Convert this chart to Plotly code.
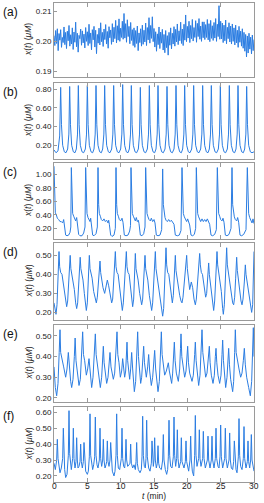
import plotly.graph_objects as go

# ---------------- data ----------------
# (a) noisy steady state, sampled every 0.125 min
T_STEP_A = 0.125
x_a = [
    0.2018, 0.1985, 0.2035, 0.1992, 0.2041, 0.1968, 0.2025, 0.2003, 0.2038, 0.1979, 0.2012, 0.1995,
    0.2047, 0.1988, 0.2029, 0.1975, 0.2033, 0.2001, 0.2052, 0.1983, 0.2021, 0.1990, 0.2044, 0.1972,
    0.2030, 0.1996, 0.2063, 0.1981, 0.2026, 0.1963, 0.2019, 0.2008, 0.2040, 0.1986, 0.2034, 0.1994,
    0.2023, 0.1977, 0.2045, 0.1999, 0.2031, 0.1985, 0.2056, 0.1992, 0.2027, 0.1971, 0.2038, 0.2004,
    0.2049, 0.1980, 0.2036, 0.1958, 0.2022, 0.1993, 0.2043, 0.1987, 0.2061, 0.1998, 0.2029, 0.1982,
    0.2040, 0.2005, 0.2055, 0.1990, 0.2032, 0.1976, 0.2048, 0.2011, 0.2037, 0.1989, 0.2058, 0.1997,
    0.2046, 0.2008, 0.2069, 0.1994, 0.2051, 0.2003, 0.2074, 0.1999, 0.2043, 0.2012, 0.2066, 0.2006,
    0.2092, 0.2010, 0.2058, 0.1996, 0.2071, 0.2015, 0.2049, 0.1991, 0.2062, 0.2002, 0.2038, 0.1985,
    0.2044, 0.1979, 0.2035, 0.1992, 0.2050, 0.1968, 0.2027, 0.1995, 0.2041, 0.1983, 0.2053, 0.1989,
    0.2036, 0.1997, 0.2060, 0.1985, 0.2045, 0.2004, 0.2078, 0.1993, 0.2052, 0.2009, 0.2081, 0.1998,
    0.2042, 0.1980, 0.2031, 0.1966, 0.2024, 0.1988, 0.2047, 0.1975, 0.2030, 0.1993, 0.2039, 0.1970,
    0.2022, 0.1961, 0.2035, 0.1978, 0.2018, 0.1953, 0.2029, 0.1986, 0.2044, 0.1974, 0.2026, 0.1990,
    0.2048, 0.1983, 0.2039, 0.1997, 0.2057, 0.1988, 0.2034, 0.2001, 0.2063, 0.1992, 0.2040, 0.1985,
    0.2056, 0.2003, 0.2087, 0.1998, 0.2049, 0.2010, 0.2066, 0.1995, 0.2052, 0.2008, 0.2072, 0.2000,
    0.2045, 0.2012, 0.2068, 0.1996, 0.2059, 0.2015, 0.2075, 0.2006, 0.2050, 0.1999, 0.2064, 0.2011,
    0.2064, 0.2005, 0.2055, 0.2012, 0.2072, 0.2004, 0.2058, 0.1998, 0.2069, 0.2009, 0.2051, 0.2002,
    0.2062, 0.2010, 0.2075, 0.1999, 0.2056, 0.2015, 0.2118, 0.2006, 0.2066, 0.2007, 0.2060, 0.1995,
    0.2053, 0.2001, 0.2070, 0.1991, 0.2046, 0.2008, 0.2061, 0.1997, 0.2050, 0.1990, 0.2057, 0.1999,
    0.2044, 0.1987, 0.2053, 0.1994, 0.2036, 0.1979, 0.2049, 0.1996, 0.2033, 0.1983, 0.2041, 0.1976,
    0.2029, 0.1966, 0.2022, 0.1947, 0.2017, 0.1960, 0.2026, 0.1973, 0.2013, 0.1957, 0.2020, 0.1968,
    0.2005,
]
t_a = [i * T_STEP_A for i in range(len(x_a))]

# (b) regular spiking
t_b = [0.0, 0.3, 0.6, 0.85,
       1.0, 1.12, 1.3, 1.55, 1.8, 2.05, 2.23,
       2.35, 2.47, 2.65, 2.9, 3.15, 3.35, 3.53,
       3.65, 3.77, 3.95, 4.2, 4.45, 4.7, 4.88,
       5.0, 5.12, 5.3, 5.55, 5.8, 6.0, 6.18,
       6.3, 6.42, 6.6, 6.85, 7.1, 7.3, 7.48,
       7.6, 7.72, 7.9, 8.15, 8.4, 8.65, 8.83,
       8.95, 9.07, 9.25, 9.5, 9.75, 10.0, 10.18,
       10.3, 10.42, 10.6, 10.85, 11.1, 11.3, 11.48,
       11.6, 11.72, 11.9, 12.15, 12.4, 12.65, 12.83,
       12.95, 13.07, 13.25, 13.5, 13.75, 14.0, 14.18,
       14.3, 14.42, 14.6, 14.85, 15.1, 15.3, 15.48,
       15.6, 15.72, 15.9, 16.15, 16.4, 16.65, 16.83,
       16.95, 17.07, 17.25, 17.5, 17.75, 18.0, 18.18,
       18.3, 18.42, 18.6, 18.85, 19.1, 19.3, 19.48,
       19.6, 19.72, 19.9, 20.15, 20.4, 20.65, 20.83,
       20.95, 21.07, 21.25, 21.5, 21.75, 22.0, 22.18,
       22.3, 22.42, 22.6, 22.85, 23.1, 23.3, 23.48,
       23.6, 23.72, 23.9, 24.15, 24.4, 24.65, 24.83,
       24.95, 25.07, 25.25, 25.5, 25.75, 26.0, 26.18,
       26.3, 26.42, 26.6, 26.85, 27.1, 27.3, 27.48,
       27.6, 27.72, 27.9, 28.15, 28.4, 28.6, 28.78,
       28.9, 29.02, 29.2, 29.45, 29.7, 30.0]
x_b = [0.15, 0.12, 0.14, 0.30,
       0.82, 0.42, 0.20, 0.13, 0.12, 0.16, 0.32,
       0.83, 0.42, 0.20, 0.13, 0.12, 0.16, 0.32,
       0.84, 0.42, 0.20, 0.13, 0.12, 0.16, 0.32,
       0.84, 0.42, 0.20, 0.13, 0.12, 0.16, 0.32,
       0.84, 0.42, 0.20, 0.13, 0.12, 0.16, 0.32,
       0.84, 0.42, 0.20, 0.13, 0.12, 0.16, 0.32,
       0.84, 0.42, 0.20, 0.13, 0.12, 0.16, 0.32,
       0.85, 0.42, 0.20, 0.13, 0.12, 0.16, 0.32,
       0.84, 0.42, 0.20, 0.13, 0.12, 0.16, 0.32,
       0.82, 0.42, 0.20, 0.13, 0.12, 0.16, 0.32,
       0.84, 0.42, 0.20, 0.13, 0.12, 0.16, 0.32,
       0.84, 0.42, 0.20, 0.13, 0.12, 0.16, 0.32,
       0.83, 0.42, 0.20, 0.13, 0.12, 0.16, 0.32,
       0.84, 0.42, 0.20, 0.13, 0.12, 0.16, 0.32,
       0.84, 0.42, 0.20, 0.13, 0.12, 0.16, 0.32,
       0.84, 0.42, 0.20, 0.13, 0.12, 0.16, 0.32,
       0.84, 0.42, 0.20, 0.13, 0.12, 0.16, 0.32,
       0.84, 0.42, 0.20, 0.13, 0.12, 0.16, 0.32,
       0.84, 0.42, 0.20, 0.13, 0.12, 0.16, 0.32,
       0.84, 0.42, 0.20, 0.13, 0.12, 0.16, 0.32,
       0.84, 0.42, 0.20, 0.13, 0.12, 0.16, 0.32,
       0.83, 0.42, 0.20, 0.13, 0.12, 0.13]

# (c) bursting
t_c = [0.0, 0.1, 0.2, 0.35, 0.5, 0.7, 0.9, 1.1, 1.3, 1.45, 1.55, 1.75, 1.95, 2.2, 2.4, 2.52,
       2.6, 2.7, 2.8, 2.95, 3.1, 3.25, 3.4, 3.5, 3.7, 3.9, 4.2, 4.45, 4.65,
       4.75, 4.85, 4.95, 5.1, 5.25, 5.4, 5.5, 5.6, 5.8, 6.0, 6.3, 6.5,
       6.6, 6.7, 6.8, 6.95, 7.1, 7.3, 7.5, 7.7, 7.9, 8.1, 8.2, 8.3, 8.5, 8.7, 9.0, 9.2,
       9.3, 9.4, 9.5, 9.65, 9.8, 10.0, 10.2, 10.35, 10.55, 10.8, 11.1, 11.35, 11.48,
       11.55, 11.65, 11.75, 11.9, 12.05, 12.2, 12.35, 12.5, 12.65, 12.75, 12.95, 13.2, 13.45, 13.65,
       13.75, 13.85, 13.95, 14.1, 14.25, 14.45, 14.6, 14.8, 15.0, 15.15, 15.35, 15.6, 15.9, 16.15,
       16.3, 16.4, 16.5, 16.65, 16.8, 17.0, 17.2, 17.4, 17.6, 17.8, 18.0, 18.2, 18.5, 18.8, 19.05,
       19.2, 19.3, 19.4, 19.55, 19.7, 19.9, 20.05, 20.2, 20.35, 20.55, 20.8, 21.05, 21.25,
       21.35, 21.45, 21.55, 21.7, 21.85, 22.0, 22.2, 22.4, 22.6, 22.8, 23.0, 23.2, 23.35, 23.55, 23.8, 24.1, 24.35,
       24.5, 24.6, 24.7, 24.85, 25.0, 25.2, 25.35, 25.5, 25.7, 25.95, 26.25, 26.55,
       26.7, 26.8, 26.9, 27.05, 27.2, 27.4, 27.55, 27.7, 27.9, 28.15, 28.45, 28.8,
       29.0, 29.1, 29.2, 29.35, 29.5, 29.7, 29.85, 30.0]
x_c = [1.12, 0.55, 0.43, 0.40, 0.35, 0.33, 0.30, 0.30, 0.28, 0.33, 0.26, 0.10, 0.09, 0.10, 0.14, 0.22,
       1.10, 0.55, 0.42, 0.38, 0.33, 0.31, 0.36, 0.30, 0.11, 0.09, 0.09, 0.13, 0.22,
       1.10, 0.55, 0.42, 0.36, 0.32, 0.30, 0.35, 0.28, 0.10, 0.09, 0.12, 0.22,
       1.10, 0.55, 0.42, 0.38, 0.33, 0.31, 0.34, 0.30, 0.32, 0.28, 0.32, 0.26, 0.10, 0.08, 0.10, 0.20,
       1.10, 0.55, 0.42, 0.38, 0.33, 0.31, 0.35, 0.29, 0.10, 0.09, 0.10, 0.16, 0.24,
       1.10, 0.55, 0.42, 0.38, 0.33, 0.31, 0.36, 0.30, 0.32, 0.27, 0.10, 0.09, 0.12, 0.22,
       1.10, 0.55, 0.42, 0.37, 0.33, 0.31, 0.35, 0.30, 0.33, 0.28, 0.10, 0.09, 0.10, 0.18,
       1.08, 0.55, 0.42, 0.36, 0.32, 0.30, 0.33, 0.30, 0.32, 0.29, 0.26, 0.10, 0.09, 0.10, 0.17,
       1.10, 0.55, 0.42, 0.37, 0.33, 0.30, 0.34, 0.30, 0.25, 0.10, 0.09, 0.11, 0.20,
       1.10, 0.55, 0.42, 0.37, 0.33, 0.30, 0.34, 0.30, 0.33, 0.30, 0.34, 0.30, 0.26, 0.10, 0.09, 0.11, 0.18,
       1.10, 0.55, 0.42, 0.38, 0.33, 0.31, 0.35, 0.29, 0.10, 0.09, 0.11, 0.20,
       1.10, 0.55, 0.42, 0.37, 0.33, 0.31, 0.36, 0.29, 0.10, 0.09, 0.11, 0.18,
       1.10, 0.55, 0.42, 0.36, 0.32, 0.28, 0.34, 0.27]

# (d) irregular oscillations
t_d = [0.0, 0.15, 0.3, 0.45, 0.62,
       0.75, 0.85, 1.0, 1.2, 1.45, 1.7, 1.9, 2.05, 2.25,
       2.43, 2.53, 2.68, 2.85, 3.05, 3.25, 3.4, 3.55, 3.75,
       3.93, 4.03, 4.18, 4.35, 4.55, 4.72, 4.85, 5.0, 5.15,
       5.3, 5.4, 5.55, 5.72, 5.95, 6.2, 6.35, 6.5, 6.7,
       6.9, 7.0, 7.15, 7.35, 7.6, 7.8, 8.0, 8.2, 8.45, 8.65, 8.8, 9.0,
       9.2, 9.3, 9.45, 9.62, 9.85, 10.08, 10.25, 10.4, 10.62,
       10.85, 10.95, 11.1, 11.27, 11.5, 11.68, 11.8, 11.95, 12.05,
       12.2, 12.3, 12.45, 12.62, 12.85, 13.05, 13.15, 13.3, 13.48,
       13.65, 13.75, 13.9, 14.07, 14.3, 14.5, 14.65, 14.8, 15.0,
       15.2, 15.3, 15.45, 15.62, 15.85, 16.1, 16.3, 16.45, 16.62,
       16.8, 16.9, 17.05, 17.22, 17.45, 17.65, 17.75, 17.9, 18.05,
       18.2, 18.3, 18.45, 18.62, 18.85, 19.05, 19.2, 19.35, 19.6,
       19.9, 20.0, 20.2, 20.35, 20.6, 20.8, 21.0, 21.2, 21.35, 21.6,
       21.85, 21.95, 22.1, 22.27, 22.5, 22.75, 22.9, 23.05,
       23.2, 23.3, 23.45, 23.65, 23.85, 23.95, 24.1, 24.3,
       24.45, 24.55, 24.7, 24.87, 25.1, 25.3, 25.4, 25.55, 25.72,
       25.9, 26.0, 26.15, 26.32, 26.55, 26.8, 26.95, 27.1, 27.25,
       27.4, 27.5, 27.65, 27.85, 28.05, 28.2, 28.35, 28.55,
       28.7, 28.8, 28.97, 29.2, 29.45, 29.65, 29.8, 29.92, 30.0]
x_d = [0.25, 0.21, 0.19, 0.24, 0.38,
       0.52, 0.44, 0.41, 0.40, 0.34, 0.27, 0.23, 0.26, 0.38,
       0.50, 0.43, 0.40, 0.38, 0.32, 0.25, 0.22, 0.25, 0.37,
       0.49, 0.43, 0.40, 0.37, 0.30, 0.24, 0.21, 0.25, 0.37,
       0.50, 0.43, 0.40, 0.38, 0.31, 0.26, 0.25, 0.28, 0.37,
       0.47, 0.41, 0.37, 0.33, 0.30, 0.33, 0.37, 0.34, 0.28, 0.25, 0.27, 0.38,
       0.52, 0.44, 0.41, 0.40, 0.32, 0.24, 0.21, 0.25, 0.38,
       0.52, 0.44, 0.41, 0.40, 0.31, 0.25, 0.23, 0.27, 0.36,
       0.51, 0.43, 0.40, 0.37, 0.30, 0.25, 0.24, 0.27, 0.37,
       0.50, 0.43, 0.40, 0.37, 0.29, 0.23, 0.21, 0.25, 0.38,
       0.52, 0.43, 0.39, 0.35, 0.27, 0.21, 0.18, 0.22, 0.36,
       0.54, 0.45, 0.41, 0.40, 0.32, 0.26, 0.25, 0.29, 0.40,
       0.50, 0.42, 0.38, 0.35, 0.29, 0.26, 0.25, 0.28, 0.38,
       0.50, 0.43, 0.36, 0.32, 0.36, 0.33, 0.27, 0.24, 0.27, 0.39,
       0.51, 0.45, 0.41, 0.40, 0.33, 0.28, 0.30, 0.38,
       0.46, 0.40, 0.36, 0.30, 0.23, 0.21, 0.26, 0.39,
       0.52, 0.45, 0.41, 0.39, 0.31, 0.22, 0.19, 0.24, 0.38,
       0.54, 0.45, 0.41, 0.39, 0.31, 0.25, 0.24, 0.28, 0.38,
       0.49, 0.42, 0.37, 0.32, 0.26, 0.24, 0.27, 0.36,
       0.45, 0.40, 0.36, 0.30, 0.23, 0.20, 0.24, 0.38, 0.52]

# (e) irregular oscillations
t_e = [0.0, 0.2, 0.4, 0.6, 0.78,
       0.9, 1.0, 1.2, 1.45, 1.75, 1.95,
       2.15, 2.3, 2.5, 2.65, 2.85, 3.05,
       3.17, 3.3, 3.5, 3.75, 3.95, 4.15,
       4.3, 4.42, 4.6, 4.85, 5.05,
       5.25, 5.4, 5.55, 5.65, 5.85, 6.05,
       6.2, 6.32, 6.5, 6.75, 6.95, 7.15, 7.3,
       7.4, 7.52, 7.7, 7.9, 8.1, 8.3,
       8.4, 8.55, 8.75, 8.9, 9.1, 9.3,
       9.45, 9.57, 9.75, 9.95, 10.15,
       10.3, 10.45, 10.6, 10.75, 10.87,
       10.95, 11.05, 11.2, 11.35, 11.5,
       11.65, 11.8, 11.95, 12.05, 12.25, 12.45,
       12.55, 12.67, 12.85, 13.0, 13.15, 13.35,
       13.45, 13.57, 13.7, 13.85, 14.05,
       14.2, 14.35, 14.5, 14.6, 14.8, 15.0,
       15.1, 15.25, 15.45, 15.6, 15.8, 16.0,
       16.1, 16.22, 16.4, 16.6, 16.85, 17.0,
       17.15, 17.3, 17.5, 17.65, 17.8, 17.95,
       18.05, 18.17, 18.35, 18.65, 18.85, 18.97,
       19.05, 19.17, 19.35, 19.6, 19.8, 19.95,
       20.05, 20.17, 20.35, 20.7, 20.9, 21.1,
       21.2, 21.32, 21.5, 21.7, 21.9, 22.1,
       22.2, 22.32, 22.5, 22.75, 22.95, 23.2,
       23.3, 23.42, 23.6, 23.85, 24.05, 24.2,
       24.3, 24.42, 24.6, 24.85, 25.05, 25.2,
       25.3, 25.42, 25.6, 25.75, 25.95, 26.1,
       26.2, 26.32, 26.5, 26.8, 26.95, 27.1,
       27.2, 27.32, 27.5, 27.75, 28.0, 28.2, 28.4,
       28.55, 28.7, 28.9, 29.2, 29.45, 29.65, 29.8,
       29.9, 30.0]
x_e = [0.35, 0.25, 0.21, 0.27, 0.42,
       0.53, 0.42, 0.38, 0.35, 0.30, 0.34,
       0.42, 0.34, 0.28, 0.25, 0.29, 0.40,
       0.49, 0.38, 0.31, 0.26, 0.29, 0.42,
       0.52, 0.41, 0.38, 0.31, 0.34,
       0.39, 0.32, 0.27, 0.25, 0.30, 0.42,
       0.51, 0.41, 0.37, 0.30, 0.25, 0.30, 0.40,
       0.45, 0.37, 0.31, 0.27, 0.30, 0.38,
       0.42, 0.35, 0.31, 0.29, 0.32, 0.42,
       0.52, 0.41, 0.37, 0.30, 0.33,
       0.39, 0.33, 0.30, 0.33, 0.42,
       0.47, 0.38, 0.32, 0.29, 0.34,
       0.42, 0.34, 0.27, 0.23, 0.28, 0.42,
       0.52, 0.40, 0.32, 0.27, 0.30, 0.40,
       0.45, 0.37, 0.32, 0.30, 0.35,
       0.41, 0.33, 0.28, 0.26, 0.30, 0.39,
       0.43, 0.34, 0.26, 0.23, 0.28, 0.43,
       0.52, 0.41, 0.36, 0.31, 0.33, 0.36,
       0.37, 0.33, 0.28, 0.27, 0.32, 0.42,
       0.47, 0.38, 0.32, 0.28, 0.34, 0.44,
       0.51, 0.40, 0.35, 0.30, 0.33, 0.41,
       0.45, 0.37, 0.32, 0.28, 0.31, 0.41,
       0.47, 0.38, 0.31, 0.26, 0.31, 0.44,
       0.53, 0.42, 0.36, 0.30, 0.32, 0.41,
       0.45, 0.37, 0.31, 0.27, 0.31, 0.40,
       0.44, 0.37, 0.31, 0.27, 0.31, 0.41,
       0.48, 0.38, 0.29, 0.25, 0.30, 0.40,
       0.44, 0.36, 0.29, 0.23, 0.28, 0.42,
       0.53, 0.42, 0.38, 0.34, 0.30, 0.32, 0.38,
       0.44, 0.36, 0.30, 0.25, 0.21, 0.28, 0.45,
       0.54, 0.40]

# (f) fast irregular spiking
t_f = [0.0, 0.1, 0.2,
       0.4, 0.5, 0.6, 0.75, 0.9, 1.1,
       1.3, 1.4, 1.5, 1.6, 1.75, 1.95,
       2.15, 2.25, 2.35, 2.5, 2.6,
       2.8, 2.9, 3.0, 3.15,
       3.3, 3.4, 3.5, 3.6, 3.75,
       3.9, 4.0, 4.1, 4.25,
       4.4, 4.5, 4.6, 4.75, 5.0, 5.15,
       5.3, 5.4, 5.5, 5.65, 5.8, 5.95,
       6.1, 6.2, 6.3, 6.45, 6.6,
       6.8, 6.9, 7.0, 7.15,
       7.3, 7.4, 7.5, 7.65, 7.8,
       7.9, 8.0, 8.1, 8.25,
       8.4, 8.5, 8.6, 8.75, 9.0, 9.15,
       9.3, 9.4, 9.5, 9.65, 9.85,
       10.1, 10.2, 10.3, 10.45, 10.6,
       10.7, 10.8, 10.9, 11.05, 11.25,
       11.4, 11.5, 11.6, 11.8, 12.0, 12.2,
       12.3, 12.4, 12.5, 12.65, 12.9, 13.1,
       13.2, 13.3, 13.4, 13.55, 13.7,
       13.8, 13.9, 14.0, 14.2, 14.4,
       14.6, 14.7, 14.8, 14.9,
       15.0, 15.1, 15.2, 15.35,
       15.5, 15.6, 15.7, 15.85, 16.1,
       16.3, 16.4, 16.5, 16.7, 16.9, 17.05,
       17.15, 17.25, 17.35, 17.5, 17.7,
       17.9, 18.0, 18.1, 18.25,
       18.4, 18.5, 18.6, 18.75,
       19.0, 19.1, 19.2, 19.35, 19.5,
       19.7, 19.8, 19.9, 20.05, 20.2,
       20.4, 20.5, 20.6, 20.75, 20.95,
       21.1, 21.2, 21.3, 21.45,
       21.7, 21.8, 21.9, 22.05,
       22.3, 22.4, 22.5, 22.7,
       23.0, 23.1, 23.2, 23.4,
       23.6, 23.7, 23.8, 24.0,
       24.2, 24.3, 24.4, 24.6, 24.75,
       24.9, 25.0, 25.1, 25.3,
       25.6, 25.7, 25.8, 26.0,
       26.25, 26.35, 26.45, 26.6, 26.8,
       26.95, 27.05, 27.15, 27.3, 27.45,
       27.65, 27.75, 27.85, 28.0, 28.2,
       28.4, 28.5, 28.6, 28.8,
       29.0, 29.1, 29.2, 29.35,
       29.5, 29.6, 29.7, 29.85, 30.0]
x_f = [0.28, 0.25, 0.24,
       0.30, 0.43, 0.31, 0.25, 0.22, 0.25,
       0.31, 0.50, 0.32, 0.24, 0.19, 0.21,
       0.33, 0.61, 0.34, 0.25, 0.24,
       0.31, 0.50, 0.31, 0.25,
       0.29, 0.44, 0.30, 0.25, 0.26,
       0.29, 0.40, 0.29, 0.25,
       0.29, 0.41, 0.28, 0.23, 0.21, 0.23,
       0.32, 0.59, 0.33, 0.26, 0.24, 0.27,
       0.32, 0.57, 0.33, 0.27, 0.25,
       0.30, 0.50, 0.31, 0.26,
       0.30, 0.43, 0.30, 0.25, 0.27,
       0.29, 0.42, 0.29, 0.26,
       0.30, 0.41, 0.28, 0.23, 0.20, 0.23,
       0.33, 0.59, 0.33, 0.25, 0.24,
       0.31, 0.50, 0.31, 0.26, 0.25,
       0.30, 0.43, 0.30, 0.26, 0.27,
       0.28, 0.40, 0.28, 0.25, 0.27, 0.24,
       0.29, 0.41, 0.28, 0.24, 0.22, 0.24,
       0.32, 0.575, 0.33, 0.26, 0.25,
       0.31, 0.55, 0.32, 0.25, 0.23,
       0.28, 0.42, 0.29, 0.26,
       0.30, 0.44, 0.30, 0.25,
       0.28, 0.39, 0.28, 0.25, 0.24,
       0.30, 0.46, 0.30, 0.24, 0.21, 0.24,
       0.32, 0.55, 0.33, 0.26, 0.25,
       0.32, 0.57, 0.33, 0.26,
       0.31, 0.49, 0.31, 0.25,
       0.29, 0.44, 0.29, 0.26, 0.25,
       0.29, 0.42, 0.29, 0.25, 0.23,
       0.30, 0.45, 0.30, 0.23, 0.20,
       0.33, 0.58, 0.33, 0.26,
       0.31, 0.49, 0.31, 0.26,
       0.31, 0.48, 0.31, 0.25,
       0.30, 0.45, 0.30, 0.25,
       0.30, 0.45, 0.30, 0.25,
       0.31, 0.50, 0.31, 0.26, 0.25,
       0.32, 0.52, 0.32, 0.25,
       0.31, 0.50, 0.31, 0.25,
       0.30, 0.47, 0.30, 0.25, 0.24,
       0.29, 0.42, 0.29, 0.24, 0.22,
       0.32, 0.56, 0.33, 0.26, 0.24,
       0.31, 0.51, 0.31, 0.25,
       0.29, 0.42, 0.29, 0.25,
       0.30, 0.46, 0.30, 0.25, 0.23]

panel_labels = ["(a)", "(b)", "(c)", "(d)", "(e)", "(f)"]
y_ticks = [
    [0.19, 0.20, 0.21],
    [0.20, 0.40, 0.60, 0.80],
    [0.20, 0.40, 0.60, 0.80, 1.00],
    [0.20, 0.30, 0.40, 0.50],
    [0.20, 0.30, 0.40, 0.50],
    [0.20, 0.30, 0.40, 0.50, 0.60],
]
x_ticks = [0, 5, 10, 15, 20, 25, 30]
y_title = "<i>x</i>(<i>t</i>) (<i>μM</i>)"
x_title = "<i>t</i> (min)"

series = [(t_a, x_a), (t_b, x_b), (t_c, x_c), (t_d, x_d), (t_e, x_e), (t_f, x_f)]
for tt, xx in series:
    assert len(tt) == len(xx), (len(tt), len(xx))

# ---------------- layout / style ----------------
W, H = 264, 503
ML, MR, MT, MB = 54, 10, 3, 21
PW = W - ML - MR
PH = H - MT - MB
panel_px = [(3, 77), (83, 159), (163, 239), (243, 320), (325, 402), (407, 482)]
y_ranges = [[0.188, 0.2127], [0.053, 0.867], [0.042, 1.168],
            [0.16, 0.565], [0.18, 0.553], [0.162, 0.633]]
LINE = "#2b7de2"
FRAME = "#9a9a9a"
FONT = "Liberation Sans, Arial, sans-serif"
TICK_SIZE = 8

fig = go.Figure()
layout = dict(
    width=W, height=H,
    margin=dict(l=ML, r=MR, t=MT, b=MB, pad=0),
    paper_bgcolor="white", plot_bgcolor="white",
    showlegend=False,
    font=dict(family=FONT, size=9, color="#222"),
)
annotations = []
for i, (tt, xx) in enumerate(series):
    k = "" if i == 0 else str(i + 1)
    top, bot = panel_px[i]
    dom = [(H - MB - bot) / PH, (H - MB - top) / PH]
    fig.add_trace(go.Scatter(x=tt, y=xx, mode="lines",
                             line=dict(color=LINE, width=1),
                             xaxis="x" + k, yaxis="y" + k, hoverinfo="skip"))
    layout["xaxis" + k] = dict(
        domain=[0, 1], range=[0, 30], anchor="y" + k,
        tickvals=x_ticks, ticks="inside", ticklen=4, tickwidth=1, tickcolor=FRAME,
        showline=True, linecolor=FRAME, linewidth=1, mirror="ticks",
        showgrid=False, zeroline=False, showticklabels=False, fixedrange=True,
    )
    layout["yaxis" + k] = dict(
        domain=dom, range=y_ranges[i], anchor="x" + k,
        tickvals=y_ticks[i], tickformat=".2f", ticks="inside", ticklen=3,
        tickwidth=1, tickcolor=FRAME,
        showline=True, linecolor=FRAME, linewidth=1, mirror=True,
        showgrid=False, zeroline=False, fixedrange=True,
        tickfont=dict(size=TICK_SIZE, family=FONT, color="#222"),
    )
    mid = (dom[0] + dom[1]) / 2
    annotations.append(dict(text=y_title, xref="paper", yref="paper",
                            x=(28 - ML) / PW, y=mid, textangle=-90,
                            showarrow=False, xanchor="center", yanchor="middle",
                            font=dict(size=8.5, family=FONT, color="#222")))
    annotations.append(dict(text=panel_labels[i], xref="paper", yref="paper",
                            x=(1 - ML) / PW, y=(H - MB - (top + 9)) / PH,
                            showarrow=False, xanchor="left", yanchor="middle",
                            font=dict(size=12, family=FONT, color="#111")))

# x tick labels of the bottom panel, placed on its x axis
for v in x_ticks:
    annotations.append(dict(text=str(v), xref="x6", yref="paper",
                            x=v, y=(H - MB - 486.5) / PH, showarrow=False,
                            xanchor="center", yanchor="middle",
                            font=dict(size=TICK_SIZE + 0.5, family=FONT, color="#222")))

annotations.append(dict(text=x_title, xref="paper", yref="paper",
                        x=0.5, y=(H - MB - 496) / PH, showarrow=False,
                        xanchor="center", yanchor="middle",
                        font=dict(size=8.5, family=FONT, color="#222")))
layout["annotations"] = annotations
fig.update_layout(**layout)
fig.write_html("out.html",
               config={"displayModeBar": False, "staticPlot": True},
               post_script="document.body.style.margin='0';document.body.style.overflow='hidden';")
